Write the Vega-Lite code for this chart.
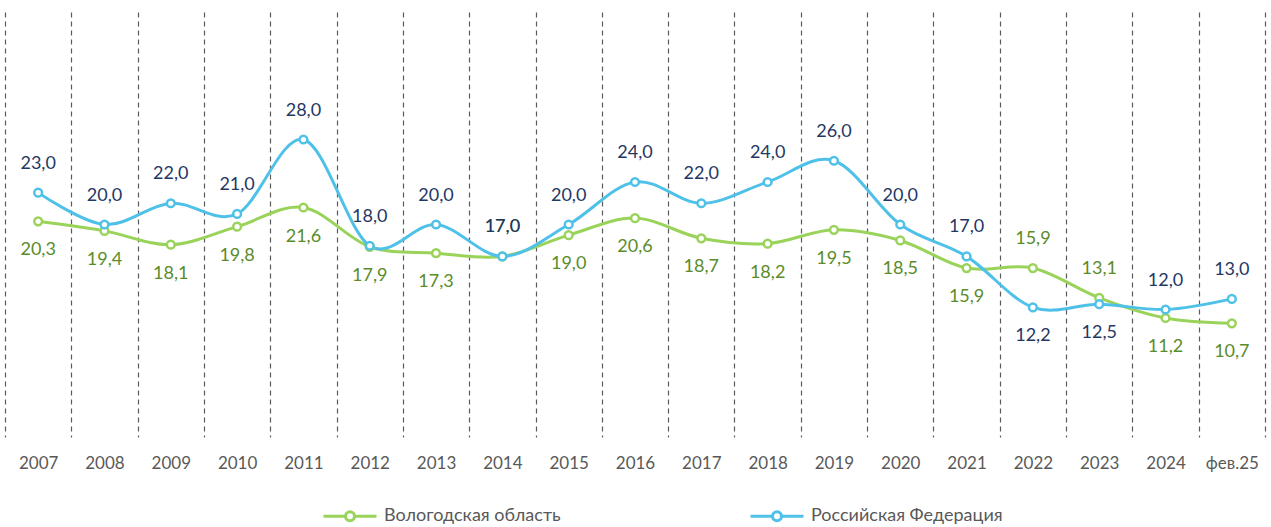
{
  "$schema": "https://vega.github.io/schema/vega-lite/v6.json",
  "width": 1260,
  "height": 425,
  "autosize": {"type": "none"},
  "padding": {"left": 5, "right": 6, "top": 12, "bottom": 90},
  "background": "white",
  "config": {
    "view": {"stroke": null},
    "locale": {"number": {"decimal": ",", "thousands": " ", "grouping": [3], "currency": ["", " ₽"]}},
    "font": "Lato, Open Sans"
  },
  "data": {
    "values": [
      {"year": "2007", "region": "Вологодская область", "value": 20.3, "pos": "below"},
      {"year": "2008", "region": "Вологодская область", "value": 19.4, "pos": "below"},
      {"year": "2009", "region": "Вологодская область", "value": 18.1, "pos": "below"},
      {"year": "2010", "region": "Вологодская область", "value": 19.8, "pos": "below"},
      {"year": "2011", "region": "Вологодская область", "value": 21.6, "pos": "below"},
      {"year": "2012", "region": "Вологодская область", "value": 17.9, "pos": "below"},
      {"year": "2013", "region": "Вологодская область", "value": 17.3, "pos": "below"},
      {"year": "2014", "region": "Вологодская область", "value": 17.0, "pos": "above"},
      {"year": "2015", "region": "Вологодская область", "value": 19.0, "pos": "below"},
      {"year": "2016", "region": "Вологодская область", "value": 20.6, "pos": "below"},
      {"year": "2017", "region": "Вологодская область", "value": 18.7, "pos": "below"},
      {"year": "2018", "region": "Вологодская область", "value": 18.2, "pos": "below"},
      {"year": "2019", "region": "Вологодская область", "value": 19.5, "pos": "below"},
      {"year": "2020", "region": "Вологодская область", "value": 18.5, "pos": "below"},
      {"year": "2021", "region": "Вологодская область", "value": 15.9, "pos": "below"},
      {"year": "2022", "region": "Вологодская область", "value": 15.9, "pos": "above"},
      {"year": "2023", "region": "Вологодская область", "value": 13.1, "pos": "above"},
      {"year": "2024", "region": "Вологодская область", "value": 11.2, "pos": "below"},
      {"year": "фев.25", "region": "Вологодская область", "value": 10.7, "pos": "below"},
      {"year": "2007", "region": "Российская Федерация", "value": 23.0, "pos": "above"},
      {"year": "2008", "region": "Российская Федерация", "value": 20.0, "pos": "above"},
      {"year": "2009", "region": "Российская Федерация", "value": 22.0, "pos": "above"},
      {"year": "2010", "region": "Российская Федерация", "value": 21.0, "pos": "above"},
      {"year": "2011", "region": "Российская Федерация", "value": 28.0, "pos": "above"},
      {"year": "2012", "region": "Российская Федерация", "value": 18.0, "pos": "above"},
      {"year": "2013", "region": "Российская Федерация", "value": 20.0, "pos": "above"},
      {"year": "2014", "region": "Российская Федерация", "value": 17.0, "pos": "above"},
      {"year": "2015", "region": "Российская Федерация", "value": 20.0, "pos": "above"},
      {"year": "2016", "region": "Российская Федерация", "value": 24.0, "pos": "above"},
      {"year": "2017", "region": "Российская Федерация", "value": 22.0, "pos": "above"},
      {"year": "2018", "region": "Российская Федерация", "value": 24.0, "pos": "above"},
      {"year": "2019", "region": "Российская Федерация", "value": 26.0, "pos": "above"},
      {"year": "2020", "region": "Российская Федерация", "value": 20.0, "pos": "above"},
      {"year": "2021", "region": "Российская Федерация", "value": 17.0, "pos": "above"},
      {"year": "2022", "region": "Российская Федерация", "value": 12.2, "pos": "below"},
      {"year": "2023", "region": "Российская Федерация", "value": 12.5, "pos": "below"},
      {"year": "2024", "region": "Российская Федерация", "value": 12.0, "pos": "above"},
      {"year": "фев.25", "region": "Российская Федерация", "value": 13.0, "pos": "above"}
    ]
  },
  "encoding": {
    "x": {
      "field": "year",
      "type": "ordinal",
      "sort": null,
      "bandPosition": 0.5,
      "scale": {"type": "band", "paddingInner": 0, "paddingOuter": 0},
      "axis": {
        "title": null,
        "domain": false,
        "ticks": false,
        "tickSize": 0,
        "tickBand": "extent",
        "grid": true,
        "gridColor": "#5a5a5a",
        "gridDash": [5, 4],
        "gridWidth": 1.2,
        "labelAngle": 0,
        "labelFont": "Lato, Open Sans",
        "labelFontSize": 17,
        "labelColor": "#595959",
        "labelBaseline": "middle",
        "labelPadding": 26
      }
    },
    "y": {
      "field": "value",
      "type": "quantitative",
      "scale": {"domain": [0, 40], "nice": false, "zero": true},
      "axis": null
    }
  },
  "layer": [
    {
      "mark": {"type": "line", "interpolate": "cardinal", "strokeWidth": 3},
      "encoding": {
        "color": {
          "field": "region",
          "type": "nominal",
          "scale": {"domain": ["Вологодская область", "Российская Федерация"], "range": ["#9ad35a", "#4fc1e9"]},
          "legend": {
            "title": null,
            "orient": "none",
            "direction": "horizontal",
            "legendX": 317,
            "legendY": 476,
            "padding": 0,
            "symbolType": "M-1,0L-0.17,0M0.17,0L1,0M0.17,0A0.17,0.17,0,1,1,-0.17,0A0.17,0.17,0,1,1,0.17,0Z",
            "symbolSize": 2809,
            "symbolStrokeWidth": 3,
            "symbolFillColor": "white",
            "labelFont": "Lato, Open Sans",
            "labelFontSize": 18,
            "labelColor": "#595959",
            "labelOffset": 6,
            "labelLimit": 0,
            "columnPadding": 183,
            "encode": {"symbols": {"update": {"fill": {"value": "white"}, "fillOpacity": {"value": 1}}}}
          }
        }
      }
    },
    {
      "mark": {"type": "point", "filled": false, "fill": "white", "fillOpacity": 1, "opacity": 1, "size": 60, "strokeWidth": 2.5},
      "encoding": {
        "color": {"field": "region", "type": "nominal", "legend": null}
      }
    },
    {
      "transform": [{"filter": "datum.pos === 'above'"}],
      "mark": {"type": "text", "dy": -29, "fontSize": 18, "font": "Lato, Open Sans", "baseline": "middle", "align": "center"},
      "encoding": {
        "text": {"field": "value", "type": "quantitative", "format": ".1f"},
        "color": {"condition": {"test": "datum.region === 'Российская Федерация'", "value": "#1f3864"}, "value": "#5b8c2a"}
      }
    },
    {
      "transform": [{"filter": "datum.pos === 'below'"}],
      "mark": {"type": "text", "dy": 29, "fontSize": 18, "font": "Lato, Open Sans", "baseline": "middle", "align": "center"},
      "encoding": {
        "text": {"field": "value", "type": "quantitative", "format": ".1f"},
        "color": {"condition": {"test": "datum.region === 'Российская Федерация'", "value": "#1f3864"}, "value": "#5b8c2a"}
      }
    }
  ]
}
